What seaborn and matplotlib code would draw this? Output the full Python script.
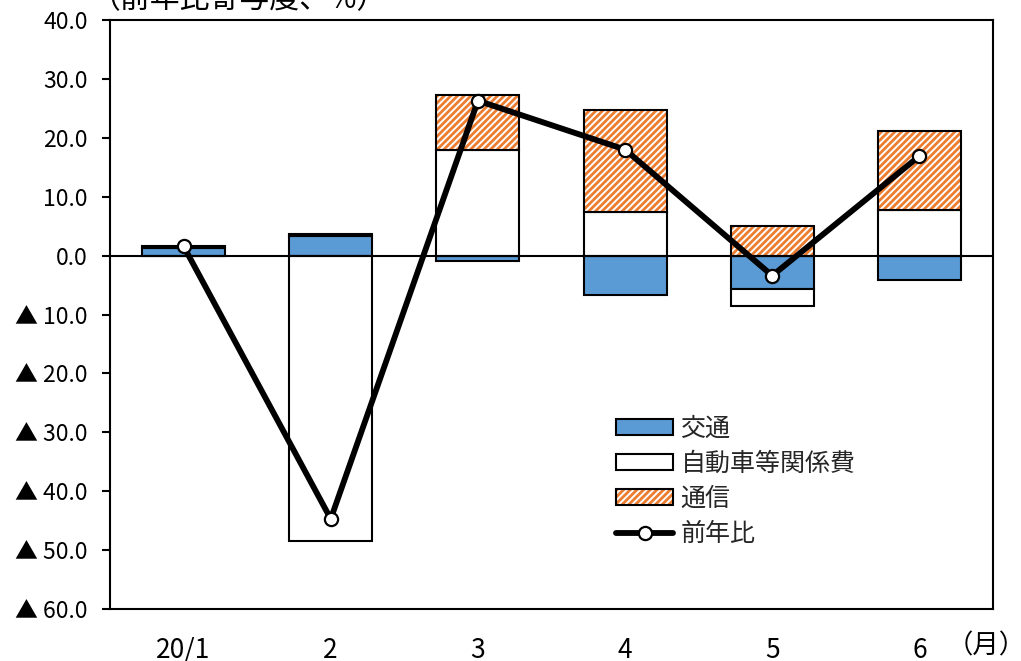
import numpy as np
import pandas as pd
import matplotlib
matplotlib.use("Agg")
import matplotlib.pyplot as plt
from matplotlib.patches import Patch
from matplotlib.lines import Line2D
from matplotlib.legend_handler import HandlerTuple
from matplotlib.ticker import FuncFormatter, MultipleLocator
import seaborn as sns

# Contributions to the year-on-year change (percentage points)
months = ["20/1", "2", "3", "4", "5", "6"]
kotsu = [1.3, 3.3, -1.0, -6.7, -5.6, -4.2]          # 交通
jidosha = [-0.1, -48.4, 18.0, 7.4, -2.9, 7.7]       # 自動車等関係費
tsushin = [0.4, 0.4, 9.3, 17.3, 5.1, 13.4]          # 通信
yoy = [1.6, -44.7, 26.3, 18.0, -3.4, 16.9]          # 前年比

series_names = ["交通", "自動車等関係費", "通信"]
BLUE = "#5B9BD5"
ORANGE = "#ED7D31"

sns.set_theme(style="white")
plt.rcParams["font.family"] = ["Noto Sans CJK JP", "DejaVu Sans"]
plt.rcParams["hatch.linewidth"] = 2.0
plt.rcParams["axes.unicode_minus"] = False

W, H = 1021, 661
fig = plt.figure(figsize=(W / 100, H / 100), dpi=100)
ax = fig.add_axes([110 / W, 1 - 609 / H, 883 / W, 589 / H])

# Stack positives upward and negatives downward, in series order
layers = [np.array(kotsu), np.array(jidosha), np.array(tsushin)]
pos_base = np.zeros(len(months))
neg_base = np.zeros(len(months))
bottoms = []
for vals in layers:
    b = np.where(vals >= 0, pos_base, neg_base)
    bottoms.append(b)
    pos_base = pos_base + np.clip(vals, 0, None)
    neg_base = neg_base + np.clip(vals, None, 0)

width = 0.565
edge_lw = 1.5
HATCH = "/////"
df = pd.DataFrame({"month": months})

# 交通
sns.barplot(x=df["month"], y=layers[0], bottom=bottoms[0], color=BLUE, saturation=1,
            width=width, edgecolor="black", linewidth=edge_lw, ax=ax, zorder=2)
# 自動車等関係費
sns.barplot(x=df["month"], y=layers[1], bottom=bottoms[1], color="white", saturation=1,
            width=width, edgecolor="black", linewidth=edge_lw, ax=ax, zorder=2)
# 通信: orange stripes, then black outline on top
sns.barplot(x=df["month"], y=layers[2], bottom=bottoms[2], color="white", saturation=1,
            width=width, edgecolor=ORANGE, linewidth=0, hatch=HATCH, ax=ax, zorder=2)
sns.barplot(x=df["month"], y=layers[2], bottom=bottoms[2], color="black", fill=False,
            saturation=1, width=width, linewidth=edge_lw, ax=ax, zorder=2.1)

ax.axhline(0, color="black", lw=1.5, zorder=3)

line_df = pd.DataFrame({"pos": np.arange(len(months)), "yoy": yoy})
sns.lineplot(data=line_df, x="pos", y="yoy", color="black", lw=4.2, marker="o",
             markersize=9.5, markerfacecolor="white", markeredgecolor="black",
             markeredgewidth=1.6, sort=False, ax=ax, zorder=4)

ax.set_xlim(-0.5, len(months) - 0.5)
ax.set_ylim(-60, 40)
ax.yaxis.set_major_locator(MultipleLocator(10))


def fmt(v, _):
    if v < 0:
        return f"▲ {abs(v):.1f}"
    return f"{v:.1f}"


ax.yaxis.set_major_formatter(FuncFormatter(fmt))
ax.set_xticks(np.arange(len(months)))
ax.set_xticklabels(months)
ax.set_xlabel("")
ax.set_ylabel("")
ax.tick_params(axis="y", which="major", left=True, length=6, width=1.5, pad=10,
               labelsize=16.5, colors="black", direction="out")
ax.tick_params(axis="x", bottom=False, pad=14, labelsize=19, colors="black")
for s in ax.spines.values():
    s.set_visible(True)
    s.set_color("black")
    s.set_linewidth(1.5)

fig.text(90 / W, 1 - 8 / H, "（前年比寄与度、%）", fontsize=21.5, ha="left",
         va="baseline", color="black")
fig.text(947 / W, 1 - 653 / H, "（月）", fontsize=19, ha="left",
         va="baseline", color="black")

handles = [
    Patch(facecolor=BLUE, edgecolor="black", linewidth=1.5),
    Patch(facecolor="white", edgecolor="black", linewidth=1.5),
    (Patch(facecolor="white", edgecolor=ORANGE, linewidth=0, hatch=HATCH),
     Patch(facecolor="none", edgecolor="black", linewidth=1.5)),
    Line2D([], [], color="black", lw=4.2, marker="o", markersize=9.5,
           markerfacecolor="white", markeredgecolor="black", markeredgewidth=1.6),
]
labels = series_names + ["前年比"]
ax.legend(handles, labels, loc="upper left",
          bbox_to_anchor=(616 / W, 1 - 416 / H), bbox_transform=fig.transFigure,
          frameon=False, fontsize=18, handlelength=2.28, handleheight=0.6,
          handletextpad=0.3, labelspacing=0.36, borderpad=0, borderaxespad=0,
          handler_map={tuple: HandlerTuple(ndivide=1, pad=0)})

fig.savefig("out.png", dpi=100)
